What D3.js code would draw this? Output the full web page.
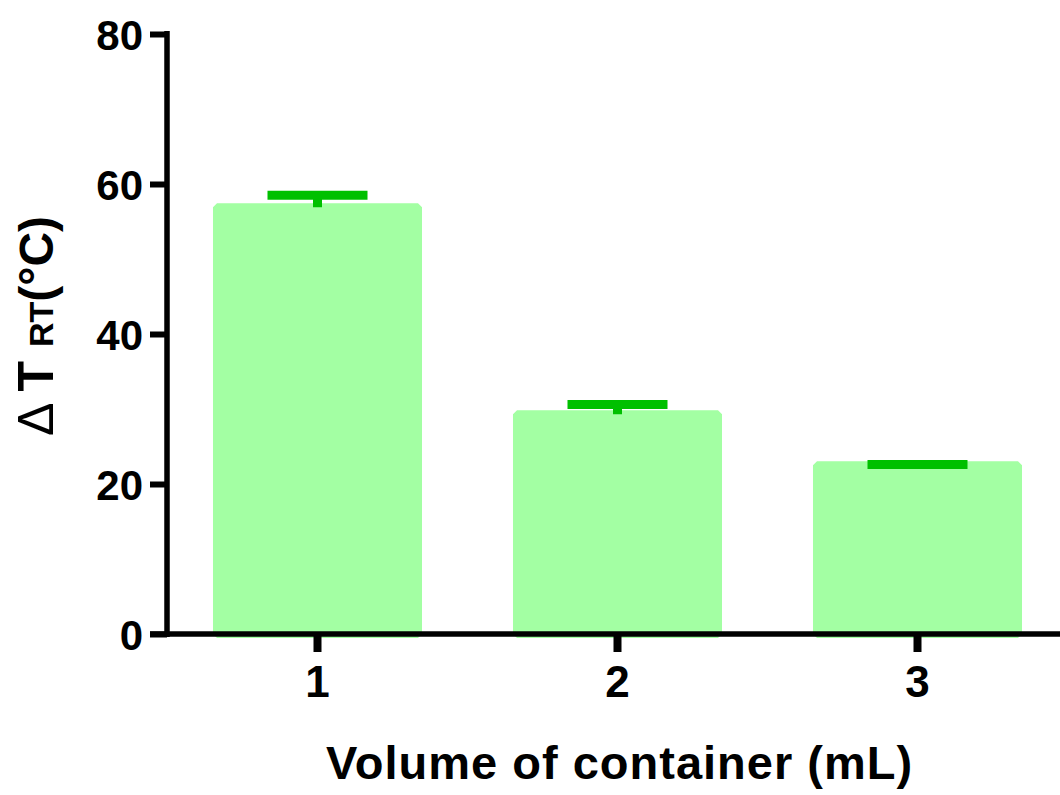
<!DOCTYPE html>
<html>
<head>
<meta charset="utf-8">
<script src="https://cdn.jsdelivr.net/npm/d3@7"></script>
<style>
  body { margin: 0; background: #fff; }
  text { font-family: "Liberation Sans", Arial, sans-serif; font-weight: bold; fill: #000; }
</style>
</head>
<body>
<svg id="chart" width="1060" height="795"></svg>
<script>
// DATA
const volumes = ["1", "2", "3"];
const meanDeltaT = [56.9, 29.3, 22.5];
const sdDeltaT = [1.6, 1.3, 0.1];
const yTicks = [0, 20, 40, 60, 80];

const svg = d3.select("#chart");

// scales (pixels)
const y = d3.scaleLinear().domain([0, 80]).range([634, 34]);
const x = d3.scaleBand()
  .domain(volumes)
  .range([167.5, 1067.5])
  .paddingInner(0.3033)
  .paddingOuter(0.3033 / 2);

const barColor = "#a3ffa3";
const errColor = "#00c000";
const border = 8; // bar outline in same colour, gives the bevelled corners

// bars
svg.selectAll("rect.bar")
  .data(volumes)
  .enter()
  .append("rect")
  .attr("class", "bar")
  .attr("x", d => x(d) + border / 2)
  .attr("y", (d, i) => y(meanDeltaT[i]))
  .attr("width", x.bandwidth() - border)
  .attr("height", (d, i) => y(0) - y(meanDeltaT[i]))
  .style("fill", barColor)
  .style("stroke", barColor)
  .style("stroke-width", border)
  .style("stroke-linejoin", "bevel");

// error bars (upper only)
const capHalf = 50;
svg.selectAll("line.stem")
  .data(volumes)
  .enter()
  .append("line")
  .attr("x1", d => x(d) + x.bandwidth() / 2)
  .attr("x2", d => x(d) + x.bandwidth() / 2)
  .attr("y1", (d, i) => y(meanDeltaT[i]))
  .attr("y2", (d, i) => y(meanDeltaT[i] + sdDeltaT[i]))
  .style("stroke", errColor)
  .style("stroke-width", 9);

svg.selectAll("line.cap")
  .data(volumes)
  .enter()
  .append("line")
  .attr("x1", d => x(d) + x.bandwidth() / 2 - capHalf)
  .attr("x2", d => x(d) + x.bandwidth() / 2 + capHalf)
  .attr("y1", (d, i) => y(meanDeltaT[i] + sdDeltaT[i]))
  .attr("y2", (d, i) => y(meanDeltaT[i] + sdDeltaT[i]))
  .style("stroke", errColor)
  .style("stroke-width", 9);

// y axis
const yAxis = svg.append("g")
  .attr("transform", "translate(167,0)")
  .call(d3.axisLeft(y).tickValues(yTicks).tickSize(17).tickPadding(7));
yAxis.select(".domain").remove();
yAxis.selectAll(".tick line").style("stroke", "#000").style("stroke-width", 6);
yAxis.selectAll(".tick text")
  .style("font-size", "42px")
  .attr("dy", "0.36em");

// x axis
const xAxis = svg.append("g")
  .attr("transform", "translate(0,634)")
  .call(d3.axisBottom(x).tickSize(18).tickPadding(0));
xAxis.select(".domain").remove();
xAxis.selectAll(".tick line").style("stroke", "#000").style("stroke-width", 8);
xAxis.selectAll(".tick text")
  .style("font-size", "44px")
  .attr("y", 63)
  .attr("dy", 0);

// axis lines
svg.append("line")
  .attr("x1", 167).attr("x2", 167)
  .attr("y1", y(80) - 3).attr("y2", y(0) + 3)
  .style("stroke", "#000").style("stroke-width", 5.5);
svg.append("line")
  .attr("x1", 150).attr("x2", 1060)
  .attr("y1", y(0)).attr("y2", y(0))
  .style("stroke", "#000").style("stroke-width", 5.5);

// axis titles
svg.append("text")
  .attr("x", 619.5)
  .attr("y", 779)
  .attr("text-anchor", "middle")
  .style("font-size", "47px")
  .style("letter-spacing", "1px")
  .text("Volume of container (mL)");

const yTitle = svg.append("text")
  .attr("transform", "translate(53,326) rotate(-90)")
  .attr("text-anchor", "middle");
yTitle.append("tspan").style("font-size", "50px").style("font-weight", "normal").text("\u0394 ");
yTitle.append("tspan").style("font-size", "50px").text("T ");
yTitle.append("tspan").style("font-size", "34px").text("RT");
yTitle.append("tspan").style("font-size", "48px").text("(\u00b0C)");
</script>
</body>
</html>
